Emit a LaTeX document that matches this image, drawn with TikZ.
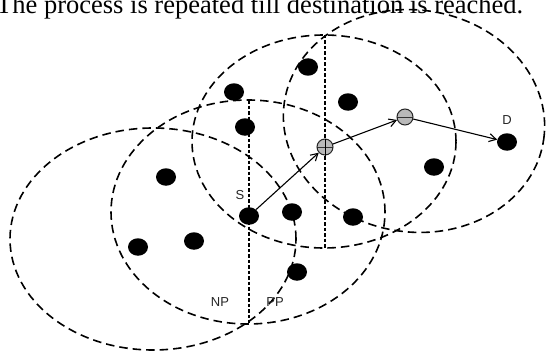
\documentclass[tikz,border=0pt]{standalone}
\usepackage{fontspec}
\setmainfont{Liberation Serif}
\newfontfamily\labelfont{Liberation Sans}
\usetikzlibrary{arrows.meta,shapes.geometric}
\begin{document}
\begin{tikzpicture}[x=1pt,y=-1pt,
  txrange/.style={draw=black, line width=1.6pt, dash pattern=on 8.5pt off 5pt},
  divider/.style={draw=black, line width=1.2pt, dash pattern=on 3.5pt off 2pt},
  sensor/.style={ellipse, fill=black, minimum width=20pt, minimum height=17.5pt, inner sep=0pt},
  relay/.style={circle, draw=black!85, line width=1pt, fill=gray!55, minimum size=16pt, inner sep=0pt,
    path picture={\draw[black!80, line width=0.7pt] (path picture bounding box.west) -- (path picture bounding box.east);}},
  crossrelay/.style={relay,
    append after command={[black!80, line width=0.7pt] (\tikzlastnode.north) edge (\tikzlastnode.south)}},
  hop/.style={draw=black, line width=1.1pt, -{Straight Barb[length=7pt,width=8pt,line width=1.1pt]}},
  lab/.style={font=\labelfont\fontsize{13}{13}\selectfont, text=black!85, inner sep=0pt}]
\useasboundingbox (0,0) rectangle (546,353);
\fill[white] (0,0) rectangle (546,353);
\node[anchor=base west, inner sep=0pt] (caption) at (-4,14) {\resizebox{527pt}{!}{The process is repeated till destination is reached.}};

% transmission ranges
\draw[txrange] (153,239) ellipse [x radius=143pt, y radius=111pt];
\draw[txrange] (248,212) ellipse [x radius=137pt, y radius=112pt];
\draw[txrange] (324,141.5) ellipse [x radius=132pt, y radius=106.5pt];
\draw[txrange, rotate around={-8:(414,121)}] (414,121) ellipse [x radius=131pt, y radius=111pt];

% progress dividers
\coordinate (n1top) at (249,100);
\coordinate (n1bot) at (249,323);
\coordinate (n2top) at (325,35);
\coordinate (n2bot) at (325,248);
\draw[divider] (n1top) -- (n1bot);
\draw[divider] (n2top) -- (n2bot);

% sensors
\node[sensor] (a1) at (308,67) {};
\node[sensor] (a2) at (234,92) {};
\node[sensor] (a3) at (348,102) {};
\node[sensor] (a4) at (245,127) {};
\node[sensor] (a5) at (166,177) {};
\node[sensor] (a6) at (434,167) {};
\node[sensor] (a7) at (292,212) {};
\node[sensor] (a8) at (353,217) {};
\node[sensor] (a9) at (138,247) {};
\node[sensor] (a10) at (194,241) {};
\node[sensor] (a11) at (297,272) {};
\node[sensor] (s) at (249,216) {};
\node[sensor] (d) at (507,142) {};
\node[crossrelay] (r1) at (325,147) {};
\node[relay] (r2) at (405,117) {};

% hops
\draw[hop] (s) -- (r1);
\draw[hop] (r1) -- (r2);
\draw[hop] (r2) -- (d);

% labels
\node[lab] (ls) at (240,195) {S};
\node[lab] (lnp) at (220,302) {NP};
\node[lab] (lpp) at (275,302) {PP};
\node[lab] (ld) at (507,120) {D};
\end{tikzpicture}
\end{document}
